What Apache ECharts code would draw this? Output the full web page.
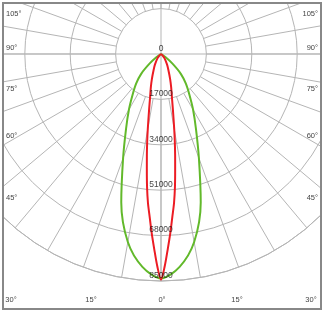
<!DOCTYPE html>
<html>
<head>
<meta charset="utf-8">
<script src="https://cdn.jsdelivr.net/npm/echarts@6/dist/echarts.min.js"></script>
<style>
html,body{margin:0;padding:0;background:#fff;}
#chart{width:324px;height:313px;}
</style>
</head>
<body>
<div id="chart"></div>
<script>
// ---- data ----
var radiusTicks = [0, 17000, 34000, 51000, 68000, 85000];
var radiusTickLabels = ['0', '17000', '34000', '51000', '68000', '85000'];

// green (wide) curve: angle (deg from nadir) -> intensity
var greenAngles = [0, 5, 10, 15, 20, 25, 30, 35, 40, 45, 50, 55, 60];
var greenValues = [84000, 80000, 71500, 57500, 41500, 31000, 24000, 18500, 14500, 10500, 5500, 2000, 0];

// red (narrow) curve
var redAngles = [0, 1, 2, 3, 4, 5, 6, 7, 8, 9, 10, 12, 14, 17, 20, 25, 30, 40, 50, 60];
var redValues = [84500, 79500, 73000, 67000, 61000, 56000, 50000, 43500, 38000, 33000, 28500, 21500, 17000, 13000, 10000, 6500, 4500, 2000, 600, 0];

var sideAngleLabels = ['105°', '90°', '75°', '60°', '45°'];
var bottomAngleLabels = ['30°', '15°', '0°', '15°', '30°'];

// ---- build symmetric closed curves ----
function buildCurve(angles, values) {
  var pts = [];
  for (var i = angles.length - 1; i >= 0; i--) pts.push([values[i], angles[i]]);
  for (var j = 1; j < angles.length; j++) pts.push([values[j], 360 - angles[j]]);
  return pts;
}

var CX = 161, CY = 54, R = 227, RIN = R * 17000 / 85000;
var gridColor = '#b5b5b5';
var font = 'Liberation Sans, Arial, sans-serif';

var graphics = [];
// white masks outside frame
graphics.push({type:'rect', shape:{x:0,y:0,width:324,height:3}, style:{fill:'#fff'}, z:100, silent:true});
graphics.push({type:'rect', shape:{x:0,y:309,width:324,height:4}, style:{fill:'#fff'}, z:100, silent:true});
graphics.push({type:'rect', shape:{x:0,y:0,width:3,height:313}, style:{fill:'#fff'}, z:100, silent:true});
graphics.push({type:'rect', shape:{x:321,y:0,width:3,height:313}, style:{fill:'#fff'}, z:100, silent:true});
graphics.push({type:'rect', shape:{x:3,y:3,width:318,height:306}, style:{fill:null, stroke:'#888', lineWidth:2}, z:101, silent:true});

var sideY = [14, 48, 89, 136, 198];
sideAngleLabels.forEach(function (t, i) {
  graphics.push({type:'text', x:6, y:sideY[i], z:102, silent:true,
    style:{text:t, fill:'#444', font:'7.5px ' + font, textAlign:'left', textVerticalAlign:'middle'}});
  graphics.push({type:'text', x:318, y:sideY[i], z:102, silent:true,
    style:{text:t, fill:'#444', font:'7.5px ' + font, textAlign:'right', textVerticalAlign:'middle'}});
});
var bottomX = [11, 91, 162, 237, 311];
bottomAngleLabels.forEach(function (t, i) {
  graphics.push({type:'text', x:bottomX[i], y:299.5, z:102, silent:true,
    style:{text:t, fill:'#444', font:'7.5px ' + font, textAlign:'center', textVerticalAlign:'middle'}});
});

var chart = echarts.init(document.getElementById('chart'), null, {renderer:'canvas'});
chart.setOption({
  backgroundColor: '#fff',
  animation: false,
  polar: [
    {center: [CX, CY], radius: [RIN, R]},
    {center: [CX, CY], radius: R}
  ],
  angleAxis: [
    {polarIndex:0, type:'value', min:0, max:360, interval:10, startAngle:270,
     axisLine:{show:false}, axisTick:{show:false}, axisLabel:{show:false},
     splitLine:{show:true, lineStyle:{color:gridColor, width:1}}},
    {polarIndex:1, type:'value', min:0, max:360, interval:90, startAngle:270,
     axisLine:{show:true, lineStyle:{color:gridColor, width:1}}, axisTick:{show:false}, axisLabel:{show:false},
     splitLine:{show:true, lineStyle:{color:gridColor, width:1}}}
  ],
  radiusAxis: [
    {polarIndex:0, type:'value', min:0, max:1, axisLine:{show:false}, axisTick:{show:false},
     axisLabel:{show:false}, splitLine:{show:false}},
    {polarIndex:1, type:'value', min:0, max:85000, interval:17000, axisLine:{show:false}, axisTick:{show:false},
     axisLabel:{show:false}, splitLine:{show:true, lineStyle:{color:gridColor, width:1}}}
  ],
  graphic: graphics,
  series: [
    {type:'line', coordinateSystem:'polar', polarIndex:1, data: buildCurve(greenAngles, greenValues),
     smooth:0.3, symbol:'none', lineStyle:{color:'#62b92b', width:2}, z:3, silent:true},
    {type:'line', coordinateSystem:'polar', polarIndex:1, data: buildCurve(redAngles, redValues),
     smooth:0.3, symbol:'none', lineStyle:{color:'#ec1c24', width:2}, z:4, silent:true},
    {type:'scatter', coordinateSystem:'polar', polarIndex:1, symbolSize:0, z:10, silent:true,
     data: radiusTicks.map(function (v) { return [v, 0]; }),
     label:{show:true, position:'top', distance:1, color:'#111', fontFamily:font, fontSize:8.5,
       formatter:function (p) { return radiusTickLabels[p.dataIndex]; }}}
  ]
});
</script>
</body>
</html>
